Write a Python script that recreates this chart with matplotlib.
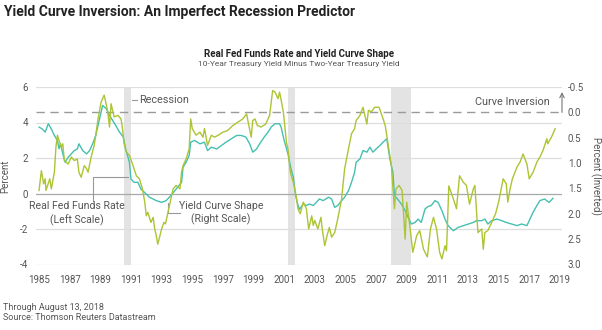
import matplotlib.pyplot as plt

plt.rcParams['font.family'] = ['Liberation Sans Narrow', 'Roboto', 'DejaVu Sans']

# Real Fed funds rate, percent (left scale)
fed_years = [1985.0, 1985.2, 1985.4, 1985.6, 1985.8, 1986.0, 1986.2, 1986.3, 1986.4, 1986.55,
             1986.7, 1986.9, 1987.1, 1987.3, 1987.5, 1987.6, 1987.85, 1988.1, 1988.3, 1988.5,
             1988.7, 1988.95, 1989.15, 1989.4, 1989.6, 1989.8, 1990.0, 1990.25, 1990.5, 1990.65,
             1990.9, 1991.0, 1991.2, 1991.45, 1991.65, 1992.0, 1992.2, 1992.45, 1992.65, 1993.0,
             1993.3, 1993.6, 1993.95, 1994.3, 1994.4, 1994.6, 1994.8, 1994.9, 1995.15, 1995.5,
             1995.8, 1996.0, 1996.25, 1996.6, 1996.9, 1997.2, 1997.55, 1997.9, 1998.2, 1998.5,
             1998.75, 1998.95, 1999.2, 1999.4, 1999.7, 1999.95, 2000.15, 2000.4, 2000.7, 2000.8,
             2001.0, 2001.25, 2001.45, 2001.6, 2001.75, 2001.85, 2002.0, 2002.25, 2002.45, 2002.65,
             2002.9, 2003.1, 2003.3, 2003.55, 2003.9, 2004.1, 2004.3, 2004.5, 2004.75, 2004.95,
             2005.2, 2005.4, 2005.6, 2005.7, 2005.95, 2006.15, 2006.4, 2006.6, 2006.8, 2007.0,
             2007.25, 2007.45, 2007.7, 2007.8, 2007.9, 2008.1, 2008.2, 2008.4, 2008.65, 2008.9,
             2009.2, 2009.3, 2009.55, 2009.75, 2009.95, 2010.2, 2010.4, 2010.6, 2010.85, 2011.05,
             2011.3, 2011.5, 2011.7, 2012.05, 2012.35, 2012.7, 2013.0, 2013.35, 2013.55, 2013.9,
             2014.1, 2014.3, 2014.55, 2014.9, 2015.2, 2015.5, 2015.85, 2016.2, 2016.5, 2016.85,
             2017.05, 2017.25, 2017.5, 2017.7, 2018.0, 2018.3, 2018.55]
fed_rate = [3.74, 3.64, 3.46, 3.93, 3.64, 3.27, 2.99, 2.52, 2.80, 2.23,
            1.76, 2.04, 2.23, 2.42, 2.51, 2.80, 2.42, 2.23, 2.42, 2.80,
            3.27, 4.21, 4.96, 4.77, 4.40, 4.12, 3.84, 3.46, 3.18, 2.51,
            1.76, 0.82, 0.63, 0.63, 0.25, -0.03, -0.21, -0.31, -0.40, -0.50,
            -0.40, -0.12, 0.25, 0.63, 1.48, 1.76, 2.14, 2.89, 2.99, 2.80,
            2.89, 2.42, 2.61, 2.51, 2.70, 2.89, 3.08, 3.27, 3.27, 3.18,
            2.80, 2.33, 2.51, 2.80, 3.18, 3.46, 3.74, 3.93, 3.93, 3.74,
            2.99, 2.23, 1.38, 0.92, -0.12, -0.50, -0.90, -0.59, -0.68, -0.59,
            -0.68, -0.50, -0.31, -0.40, -0.21, -0.31, -0.78, -0.68, -0.40, -0.21,
            0.16, 0.63, 1.20, 1.76, 1.95, 2.42, 2.33, 2.61, 2.33, 2.51,
            2.70, 2.89, 3.08, 2.51, 1.95, 1.20, -0.12, -0.31, -0.59, -0.97,
            -1.53, -1.72, -1.63, -1.44, -1.63, -0.87, -0.73, -0.68, -0.40, -0.50,
            -0.97, -1.44, -1.81, -2.10, -1.91, -1.81, -1.72, -1.63, -1.53, -1.53,
            -1.44, -1.72, -1.53, -1.44, -1.53, -1.63, -1.72, -1.81, -1.72, -1.81,
            -1.44, -1.06, -0.68, -0.40, -0.31, -0.50, -0.27]

# 10-year minus 2-year Treasury yield, percent (right scale, inverted)
curve_years = [1985.0, 1985.15, 1985.3, 1985.4, 1985.45, 1985.7, 1985.8, 1986.0, 1986.1, 1986.2,
               1986.3, 1986.45, 1986.55, 1986.65, 1986.9, 1987.1, 1987.3, 1987.5, 1987.6, 1987.75,
               1987.95, 1988.1, 1988.2, 1988.4, 1988.6, 1988.7, 1988.85, 1989.05, 1989.15, 1989.25,
               1989.4, 1989.5, 1989.6, 1989.7, 1989.9, 1990.15, 1990.35, 1990.45, 1990.55, 1990.7,
               1990.9, 1991.1, 1991.35, 1991.55, 1991.75, 1991.9, 1992.0, 1992.1, 1992.3, 1992.45,
               1992.55, 1992.65, 1992.75, 1993.0, 1993.15, 1993.25, 1993.5, 1993.75, 1993.95, 1994.2,
               1994.3, 1994.4, 1994.6, 1994.8, 1994.9, 1995.0, 1995.25, 1995.5, 1995.7, 1995.8,
               1996.0, 1996.25, 1996.45, 1996.7, 1997.0, 1997.3, 1997.65, 1998.0, 1998.3, 1998.55,
               1998.65, 1998.85, 1998.95, 1999.1, 1999.25, 1999.5, 1999.8, 2000.05, 2000.25, 2000.4,
               2000.6, 2000.7, 2000.85, 2000.95, 2001.15, 2001.25, 2001.4, 2001.6, 2001.8, 2001.9,
               2002.05, 2002.25, 2002.45, 2002.6, 2002.8, 2002.9, 2003.0, 2003.2, 2003.4, 2003.5,
               2003.65, 2003.8, 2003.95, 2004.1, 2004.3, 2004.5, 2004.75, 2004.95, 2005.2, 2005.4,
               2005.6, 2005.7, 2005.95, 2006.15, 2006.4, 2006.5, 2006.7, 2006.9, 2007.2, 2007.35,
               2007.6, 2007.8, 2008.0, 2008.2, 2008.3, 2008.5, 2008.7, 2008.9, 2009.0, 2009.2,
               2009.4, 2009.65, 2009.85, 2010.1, 2010.35, 2010.55, 2010.75, 2010.95, 2011.15, 2011.3,
               2011.5, 2011.6, 2011.75, 2012.05, 2012.25, 2012.45, 2012.7, 2012.9, 2013.1, 2013.35,
               2013.45, 2013.65, 2013.9, 2014.0, 2014.1, 2014.3, 2014.55, 2014.8, 2015.0, 2015.3,
               2015.5, 2015.6, 2015.75, 2015.9, 2016.2, 2016.4, 2016.6, 2016.85, 2017.0, 2017.25,
               2017.5, 2017.7, 2017.9, 2018.15, 2018.2, 2018.45, 2018.7]
curve_spread = [1.54, 1.15, 1.41, 1.31, 1.54, 1.31, 1.51, 1.18, 0.69, 0.45,
                0.55, 0.69, 0.62, 0.95, 1.02, 0.88, 0.95, 0.92, 1.18, 1.28,
                1.05, 1.11, 1.18, 0.88, 0.65, 0.45, 0.13, -0.20, -0.27, -0.34,
                -0.14, 0.03, 0.29, -0.17, 0.09, 0.06, 0.13, 0.32, 0.62, 0.78,
                0.85, 1.02, 1.25, 1.31, 1.51, 1.77, 2.04, 1.97, 2.17, 2.07,
                2.30, 2.43, 2.60, 2.30, 2.17, 2.20, 1.85, 1.51, 1.44, 1.51,
                1.18, 1.05, 0.92, 0.72, 0.13, 0.32, 0.45, 0.39, 0.49, 0.32,
                0.65, 0.45, 0.49, 0.45, 0.39, 0.36, 0.26, 0.19, 0.13, 0.03,
                0.19, 0.49, 0.16, 0.13, 0.26, 0.29, 0.23, 0.06, -0.43, -0.40,
                -0.27, -0.40, -0.17, 0.00, 0.59, 0.72, 1.18, 1.38, 1.67, 1.90,
                2.00, 1.77, 1.90, 2.30, 2.04, 2.23, 2.13, 2.30, 2.07, 2.33,
                2.63, 2.43, 2.27, 2.46, 2.37, 2.10, 1.71, 1.11, 0.72, 0.42,
                0.32, 0.16, 0.06, -0.10, 0.23, -0.04, -0.01, -0.10, -0.10, 0.03,
                0.26, 0.65, 1.05, 1.90, 1.51, 1.44, 1.54, 2.50, 1.77, 2.23,
                2.76, 2.43, 2.33, 2.70, 2.85, 2.30, 2.07, 2.30, 2.76, 2.89,
                2.63, 2.73, 1.45, 1.71, 1.90, 1.25, 1.38, 1.44, 1.81, 1.51,
                1.44, 2.37, 2.30, 2.70, 2.37, 2.33, 2.17, 2.00, 1.77, 1.31,
                1.41, 1.77, 1.51, 1.31, 1.08, 0.98, 0.82, 1.02, 1.31, 1.18,
                0.98, 0.88, 0.75, 0.52, 0.62, 0.49, 0.32]

# recession periods shaded in grey
recession_start = [1990.55, 2001.25, 2007.95]
recession_end = [1991.0, 2001.7, 2009.3]

year_ticks = list(range(1985, 2020, 2))
left_ticks = [-4, -2, 0, 2, 4, 6]
right_ticks = [-0.5, 0.0, 0.5, 1.0, 1.5, 2.0, 2.5, 3.0]

teal = '#45c0b0'
lime = '#abc534'
grey_text = '#555555'

fig = plt.figure(figsize=(6.02, 3.30), dpi=100)
ax = fig.add_axes([36 / 602, 1 - 264.5 / 330, 525.7 / 602, 177.5 / 330])
ax2 = ax.twinx()

for s, e in zip(recession_start, recession_end):
    ax.axvspan(s, e, color='#e3e3e3', lw=0, zorder=0)

for y in left_ticks:
    ax.axhline(y, color='#a8a8a8' if y == 0 else '#dedede', lw=0.9, zorder=1)

ax.plot(fed_years, fed_rate, color=teal, lw=1.0, zorder=3)
ax2.plot(curve_years, curve_spread, color=lime, lw=1.0, zorder=3)
ax2.axhline(0.0, color='#9a9a9a', lw=1.0, dashes=(6, 4), zorder=2)

ax.set_xlim(1984.8, 2019.12)
ax.set_ylim(-4, 6)
ax2.set_ylim(3.0, -0.5)

ax.set_xticks(year_ticks)
ax.set_yticks(left_ticks)
ax2.set_yticks(right_ticks)
ax2.set_yticklabels([f'{v:.1f}' for v in right_ticks])
ax.set_yticklabels([str(v) for v in left_ticks])

ax.tick_params(axis='x', length=0, pad=7.5, labelsize=7, labelcolor=grey_text)
ax.tick_params(axis='y', length=0, pad=5.8, labelsize=7, labelcolor=grey_text)
ax2.tick_params(axis='y', length=0, pad=4.5, labelsize=7, labelcolor=grey_text)

for a in (ax, ax2):
    for sp in a.spines.values():
        sp.set_visible(False)

# text labels
fig.text(5 / 602, 1 - 176 / 330, 'Percent', rotation=90, ha='center', va='center',
         fontsize=7, color=grey_text)
fig.text(596 / 602, 1 - 176 / 330, 'Percent (Inverted)', rotation=270, ha='center',
         va='center', fontsize=7, color=grey_text)

fig.text(4 / 602, 1 - 12 / 330, 'Yield Curve Inversion: An Imperfect Recession Predictor',
         ha='left', va='center', fontsize=10, fontweight='bold', color='#222222')
fig.text(299 / 602, 1 - 54 / 330, 'Real Fed Funds Rate and Yield Curve Shape',
         ha='center', va='center', fontsize=7, fontweight='bold', color='#222222')
fig.text(299 / 602, 1 - 64 / 330, '10-Year Treasury Yield Minus Two-Year Treasury Yield',
         ha='center', va='center', fontsize=6, color=grey_text)

fig.text(3 / 602, 1 - 307 / 330, 'Through August 13, 2018', ha='left', va='center',
         fontsize=6.5, color=grey_text)
fig.text(3 / 602, 1 - 318 / 330, 'Source: Thomson Reuters Datastream', ha='left',
         va='center', fontsize=6.5, color=grey_text)

# recession callout
ax.plot([1991.05, 1991.38], [5.27, 5.27], color='#999999', lw=0.8)
ax.text(1991.55, 5.27, 'Recession', ha='left', va='center', fontsize=7.8, color=grey_text)

# inversion callout with upward arrow
ax.text(2018.36, 5.15, 'Curve Inversion', ha='right', va='center', fontsize=7.8,
        color=grey_text)
ax2.annotate('', xy=(2019.14, -0.4), xytext=(2019.14, 0.0), annotation_clip=False,
             arrowprops=dict(arrowstyle='->', color='#777777', lw=0.8,
                             shrinkA=0, shrinkB=0, mutation_scale=8))

# series labels with leader lines
ax.plot([1988.52, 1988.52, 1990.81], [-0.42, 0.93, 0.93], color='#999999', lw=0.8)
ax.text(1987.5, -1.14, 'Real Fed Funds Rate\n(Left Scale)', ha='center', va='center',
        fontsize=7.6, color=grey_text, linespacing=1.35)
ax.plot([1993.42, 1993.42, 1994.2], [-0.54, -1.1, -1.1], color='#999999', lw=0.8)
ax.text(1996.88, -1.09, 'Yield Curve Shape\n(Right Scale)', ha='center', va='center',
        fontsize=7.6, color=grey_text, linespacing=1.25)

fig.savefig('out.png', dpi=100)
